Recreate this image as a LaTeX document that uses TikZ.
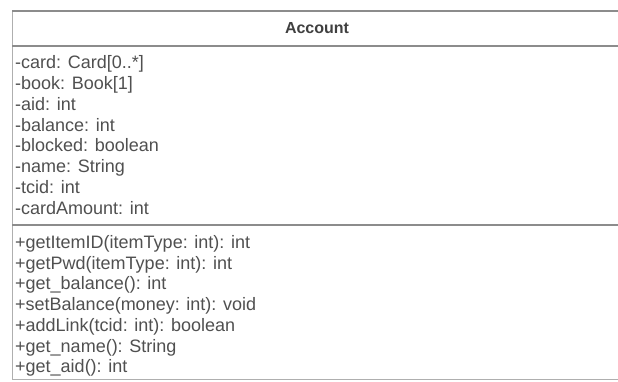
\documentclass[tikz,border=0pt]{standalone}
\usepackage{fontspec}
\setmainfont{Liberation Sans}
\usepackage{tikz}
\definecolor{linegray}{HTML}{8C8C8C}
\definecolor{textgray}{HTML}{505050}
\tikzset{
  member/.style = {anchor = base west, inner sep = 0pt, text = textgray,
    font = \fontsize{18}{21}\selectfont},
  title/.style = {inner sep = 0pt, text = textgray!80!black,
    font = \fontsize{16}{19}\selectfont\bfseries},
  rule/.style = {color = linegray, line width = 2pt}
}
\begin{document}
\begin{tikzpicture}[x = 1pt, y = -1pt]
\useasboundingbox (0, 0) rectangle (618, 381);
\fill[white] (0, 0) rectangle (618, 381);
% class box
\draw[color = linegray!70, line width = 1.2pt] (12.5, 11) -- (12.5, 379.5) -- (630, 379.5);
\draw[rule] (12, 11) -- (630, 11);
\draw[rule] (12, 45.5) -- (630, 45.5);
\draw[rule] (12, 225) -- (630, 225);
\node (name) at (317, 28) [title] {Account};
% attributes
\node (card) at (15, 68) [member] {-card: Card[0..*]};
\node (book) at (15, 89) [member] {-book: Book[1]};
\node (aid) at (15, 110) [member] {-aid: int};
\node (balance) at (15, 131) [member] {-balance: int};
\node (blocked) at (15, 151) [member] {-blocked: boolean};
\node (uname) at (15, 172) [member] {-name: String};
\node (tcid) at (15, 193) [member] {-tcid: int};
\node (amount) at (15, 214) [member] {-cardAmount: int};
% operations
\node (getitem) at (15, 248) [member] {+getItemID(itemType: int): int};
\node (getpwd) at (15, 269) [member] {+getPwd(itemType: int): int};
\node (getbal) at (15, 289) [member] {+get\_balance(): int};
\node (setbal) at (15, 310) [member] {+setBalance(money: int): void};
\node (addlink) at (15, 331) [member] {+addLink(tcid: int): boolean};
\node (getname) at (15, 352) [member] {+get\_name(): String};
\node (getaid) at (15, 372) [member] {+get\_aid(): int};
\end{tikzpicture}
\end{document}
